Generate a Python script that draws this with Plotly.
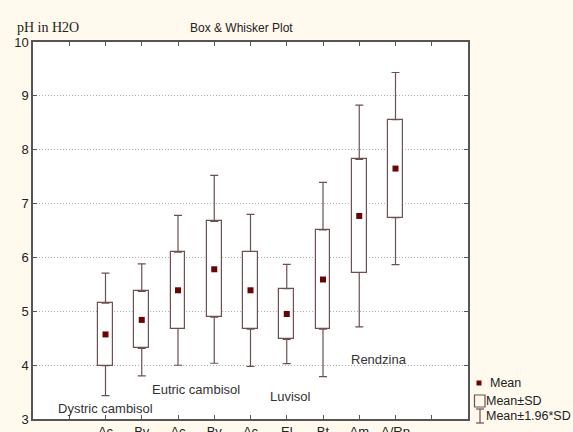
import plotly.graph_objects as go

# ---- data ----
horizons = ["Ac", "Bv", "Ac", "Bv", "Ac", "El", "Bt", "Am", "A/Rp"]
positions = [1, 2, 3, 4, 5, 6, 7, 8, 9]
means = [4.57, 4.84, 5.39, 5.78, 5.39, 4.95, 5.59, 6.77, 7.65]
sds = [0.58, 0.53, 0.71, 0.89, 0.72, 0.47, 0.92, 1.05, 0.91]
soil_groups = ["Dystric cambisol", "Eutric cambisol", "Luvisol", "Rendzina"]
group_x = [1.0, 3.5, 6.1, 8.55]
group_y = [3.2, 3.55, 3.42, 4.1]

tick_pos = [0] + positions + [10]
tick_text = [""] + horizons + [""]

box_base = [m - s for m, s in zip(means, sds)]
box_height = [2 * s for s in sds]
box_top = [m + s for m, s in zip(means, sds)]
whisk_ext = [0.96 * s for s in sds]

LINE = "#6e5050"
MEANC = "#6b0505"
BG = "#FFF9EE"
AX = "#555555"
FONT = "Liberation Sans"

fig = go.Figure()
fig.add_trace(go.Bar(x=positions, y=box_height, base=box_base, width=0.41,
                     marker=dict(color="white", line=dict(color=LINE, width=1.2)),
                     showlegend=False, hoverinfo="skip"))
fig.add_trace(go.Scatter(x=positions, y=box_top, mode="markers",
                         marker=dict(size=1, opacity=0),
                         error_y=dict(type="data", symmetric=False, array=whisk_ext,
                                      arrayminus=[0] * len(sds), color=LINE,
                                      thickness=1.2, width=4),
                         showlegend=False, hoverinfo="skip"))
fig.add_trace(go.Scatter(x=positions, y=box_base, mode="markers",
                         marker=dict(size=1, opacity=0),
                         error_y=dict(type="data", symmetric=False, array=[0] * len(sds),
                                      arrayminus=whisk_ext, color=LINE,
                                      thickness=1.2, width=4),
                         showlegend=False, hoverinfo="skip"))
fig.add_trace(go.Scatter(x=positions, y=means, mode="markers",
                         marker=dict(symbol="square", size=6, color=MEANC),
                         showlegend=False))

annotations = []
for name, gx, gy in zip(soil_groups, group_x, group_y):
    annotations.append(dict(x=gx, y=gy, xref="x", yref="y", text=name, showarrow=False,
                            xanchor="center", yanchor="middle",
                            font=dict(family=FONT, size=13, color="#333333")))


# paper coordinates relative to plot area (x: 33..468 px, y: 419..42 px)
def px(xp):
    return (xp - 33) / 435


def py(yp):
    return (419 - yp) / 377


annotations += [
    dict(x=px(241), y=py(28), xref="paper", yref="paper", text="Box & Whisker Plot",
         showarrow=False, xanchor="center", yanchor="middle",
         font=dict(family=FONT, size=12, color="#222222")),
    dict(x=px(48), y=py(27), xref="paper", yref="paper", text="pH in H2O",
         showarrow=False, xanchor="center", yanchor="middle",
         font=dict(family="Liberation Serif", size=14, color="#222222")),
]

leg_font = dict(family=FONT, size=12.5, color="#222222")
annotations += [
    dict(x=px(488), y=py(383), xref="paper", yref="paper", text="Mean", showarrow=False,
         xanchor="left", yanchor="middle", font=leg_font),
    dict(x=px(484), y=py(401), xref="paper", yref="paper", text="Mean±SD", showarrow=False,
         xanchor="left", yanchor="middle", font=leg_font),
    dict(x=px(484), y=py(416), xref="paper", yref="paper", text="Mean±1.96*SD", showarrow=False,
         xanchor="left", yanchor="middle", font=leg_font),
]

shapes = [
    dict(type="rect", xref="paper", yref="paper", x0=px(476.5), x1=px(481.5),
         y0=py(385.5), y1=py(380.5), fillcolor=MEANC, line=dict(width=0)),
    dict(type="rect", xref="paper", yref="paper", x0=px(474.5), x1=px(485),
         y0=py(407), y1=py(395), fillcolor="rgba(0,0,0,0)", line=dict(color=LINE, width=1.2)),
    dict(type="line", xref="paper", yref="paper", x0=px(480), x1=px(480),
         y0=py(423), y1=py(409), line=dict(color=LINE, width=1.2)),
    dict(type="line", xref="paper", yref="paper", x0=px(476), x1=px(484),
         y0=py(423), y1=py(423), line=dict(color=LINE, width=1.2)),
    dict(type="line", xref="paper", yref="paper", x0=px(476), x1=px(484),
         y0=py(409), y1=py(409), line=dict(color=LINE, width=1.2)),
]

fig.update_layout(
    width=573, height=432,
    paper_bgcolor=BG, plot_bgcolor="white",
    margin=dict(l=33, r=105, t=42, b=13, autoexpand=False),
    showlegend=False,
    annotations=annotations, shapes=shapes,
    bargap=0,
    xaxis=dict(range=[-1, 11], tickmode="array", tickvals=tick_pos, ticktext=tick_text,
               ticks="inside", ticklen=4, tickcolor=AX, showline=True, linecolor=AX,
               linewidth=1.5, mirror="ticks", showgrid=False, zeroline=False,
               automargin=False, tickfont=dict(family=FONT, size=13, color="#222222")),
    yaxis=dict(range=[3, 10], tickmode="linear", tick0=3, dtick=1,
               ticks="inside", ticklen=4, tickcolor=AX, showline=True, linecolor=AX,
               linewidth=1.5, mirror="ticks", showgrid=True, gridcolor="#b0b0b0",
               griddash="1px,2px", gridwidth=1, zeroline=False, automargin=False,
               tickfont=dict(family=FONT, size=13, color="#222222")),
)

fig.write_html("out.html", config={"displayModeBar": False},
               post_script="document.body.style.margin='0px';"
                           "document.body.style.background='#FFF9EE';")
